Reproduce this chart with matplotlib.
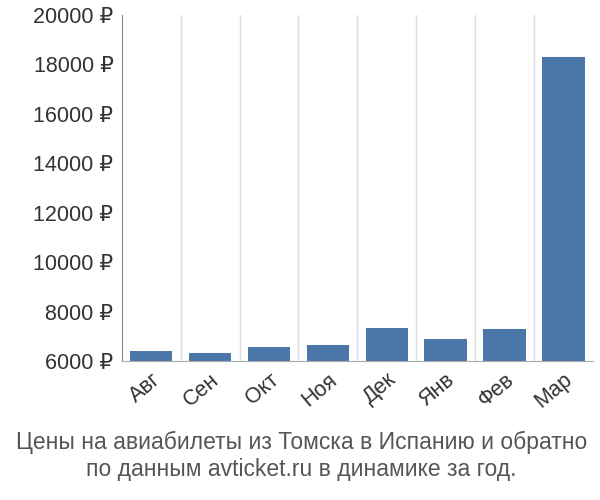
import matplotlib
matplotlib.use("Agg")
import matplotlib.pyplot as plt

months = ["Авг", "Сен", "Окт", "Ноя", "Дек", "Янв", "Фев", "Мар"]
prices = [6400, 6320, 6560, 6650, 7320, 6900, 7300, 18300]
yticks = [6000, 8000, 10000, 12000, 14000, 16000, 18000, 20000]

plt.rcParams['font.family'] = ['Liberation Sans', 'DejaVu Sans']

fig = plt.figure(figsize=(6, 5), dpi=100)
ax = fig.add_axes([0.203, 0.278, 0.785, 0.692])

x = range(len(months))
ax.bar(x, prices, width=0.72, color="#4a76a8", zorder=2)
ax.set_xlim(-0.5, len(months) - 0.5)
ax.set_ylim(6000, 20000)
ax.set_yticks(yticks)
ax.set_yticklabels([f"{v} ₽" for v in yticks], fontsize=15.5, color="#333333")
ax.set_xticks(list(x))
ax.set_xticklabels(months, rotation=40, ha="right", rotation_mode="anchor",
                   fontsize=15.5, color="#333333")
for b in [i + 0.5 for i in range(len(months) - 1)]:
    ax.axvline(b, color="#dddddd", lw=1, zorder=1)
for s in ["top", "right"]:
    ax.spines[s].set_visible(False)
ax.spines["left"].set_color("#888888")
ax.spines["bottom"].set_color("#aaaaaa")
ax.tick_params(axis="both", length=0, pad=6)

fig.text(0.502, 0.088, "Цены на авиабилеты из Томска в Испанию и обратно\nпо данным avticket.ru в динамике за год.",
         ha="center", va="center", fontsize=16.5, color="#555555", linespacing=1.25)

fig.savefig("out.png")
